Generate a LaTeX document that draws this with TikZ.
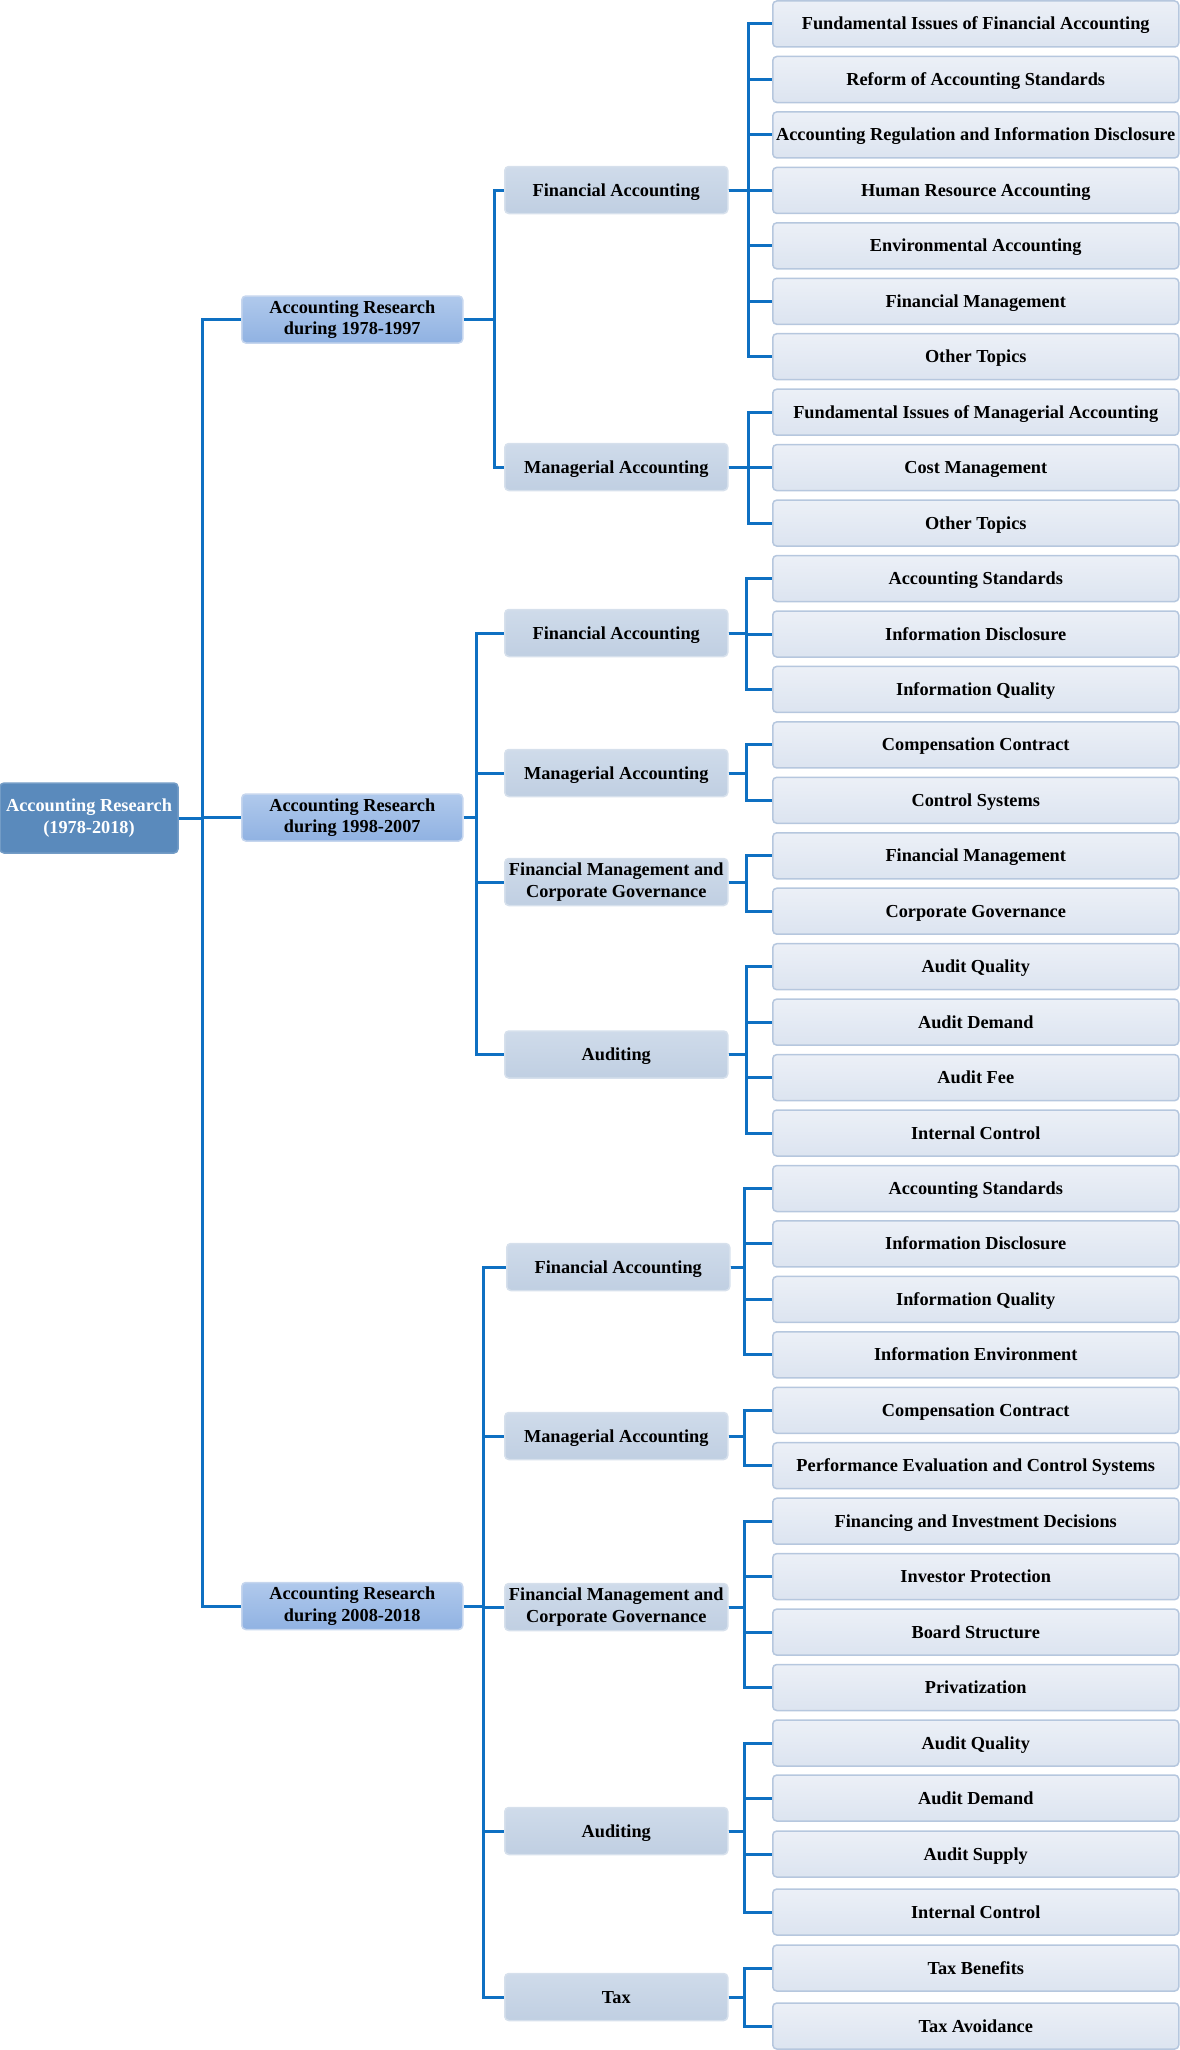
\documentclass[tikz,border=0pt]{standalone}
\usepackage{fontspec}
\setmainfont{Liberation Serif}
\usepackage{tikz}

\definecolor{linkblue}{RGB}{14,112,194}
\definecolor{rootfill}{RGB}{90,138,188}
\definecolor{periodtop}{RGB}{176,201,236}
\definecolor{periodbot}{RGB}{144,178,226}
\definecolor{periodline}{RGB}{198,214,238}
\definecolor{fieldtop}{RGB}{207,219,234}
\definecolor{fieldbot}{RGB}{192,207,226}
\definecolor{fieldline}{RGB}{214,224,236}
\definecolor{topictop}{RGB}{236,240,247}
\definecolor{topicbot}{RGB}{220,228,240}
\definecolor{topicline}{RGB}{182,199,222}

\begin{document}
\begin{tikzpicture}[x=1pt,y=-1pt,
	font=\fontsize{18.3}{21.5}\selectfont\bfseries,
	box/.style={rounded corners=4pt, align=center, inner sep=2pt, line width=1.5pt},
	oneline/.style={text height=16pt, text depth=4pt},
	root/.style={box, fill=rootfill, draw=rootfill!85!white, text=white, minimum width=178pt, minimum height=70pt},
	period/.style={box, anchor=west, top color=periodtop, bottom color=periodbot, draw=periodline, minimum width=221pt, minimum height=47pt},
	field/.style={box, anchor=west, top color=fieldtop, bottom color=fieldbot, draw=fieldline, minimum width=223pt, minimum height=47pt},
	topic/.style={box, oneline, anchor=west, top color=topictop, bottom color=topicbot, draw=topicline, minimum width=406pt, minimum height=46pt},
	link/.style={draw=linkblue, line width=3pt}]

	\useasboundingbox (0,0) rectangle (1180,2050);

	% root and periods
	\node[root] (r) at (89,818) {Accounting Research\\(1978-2018)};

	\node[period] (p1) at (241,319.5) {Accounting Research\\during 1978-1997};
	\node[period] (p2) at (241,817.5) {Accounting Research\\during 1998-2007};
	\node[period] (p3) at (241,1606) {Accounting Research\\during 2008-2018};

	% fields
	\node[field,oneline] (f11) at (504,190) {Financial Accounting};
	\node[field,oneline] (f12) at (504,467) {Managerial Accounting};

	\node[field,oneline] (f21) at (504,633) {Financial Accounting};
	\node[field,oneline] (f22) at (504,773) {Managerial Accounting};
	\node[field] (f23) at (504,882) {Financial Management and\\Corporate Governance};
	\node[field,oneline] (f24) at (504,1054.5) {Auditing};

	\node[field,oneline] (f31) at (506,1267) {Financial Accounting};
	\node[field,oneline] (f32) at (504,1436) {Managerial Accounting};
	\node[field] (f33) at (504,1607) {Financial Management and\\Corporate Governance};
	\node[field,oneline] (f34) at (504,1831) {Auditing};
	\node[field,oneline] (f35) at (504,1997) {Tax};

	% topics
	\node[topic] (t1) at (772,24) {Fundamental Issues of Financial Accounting};
	\node[topic] (t2) at (772,79.5) {Reform of Accounting Standards};
	\node[topic] (t3) at (772,134.9) {Accounting Regulation and Information Disclosure};
	\node[topic] (t4) at (772,190.4) {Human Resource Accounting};
	\node[topic] (t5) at (772,245.8) {Environmental Accounting};
	\node[topic] (t6) at (772,301.3) {Financial Management};
	\node[topic] (t7) at (772,356.7) {Other Topics};
	\node[topic] (t8) at (772,412.2) {Fundamental Issues of Managerial Accounting};
	\node[topic] (t9) at (772,467.6) {Cost Management};
	\node[topic] (t10) at (772,523.1) {Other Topics};

	\node[topic] (t11) at (772,578.5) {Accounting Standards};
	\node[topic] (t12) at (772,634) {Information Disclosure};
	\node[topic] (t13) at (772,689.4) {Information Quality};
	\node[topic] (t14) at (772,744.9) {Compensation Contract};
	\node[topic] (t15) at (772,800.3) {Control Systems};
	\node[topic] (t16) at (772,855.8) {Financial Management};
	\node[topic] (t17) at (772,911.2) {Corporate Governance};
	\node[topic] (t18) at (772,966.7) {Audit Quality};
	\node[topic] (t19) at (772,1022.1) {Audit Demand};
	\node[topic] (t20) at (772,1077.6) {Audit Fee};
	\node[topic] (t21) at (772,1133) {Internal Control};

	\node[topic] (t22) at (772,1188.5) {Accounting Standards};
	\node[topic] (t23) at (772,1243.9) {Information Disclosure};
	\node[topic] (t24) at (772,1299.4) {Information Quality};
	\node[topic] (t25) at (772,1354.8) {Information Environment};
	\node[topic] (t26) at (772,1410.3) {Compensation Contract};
	\node[topic] (t27) at (772,1465.7) {Performance Evaluation and Control Systems};
	\node[topic] (t28) at (772,1521.2) {Financing and Investment Decisions};
	\node[topic] (t29) at (772,1576.6) {Investor Protection};
	\node[topic] (t30) at (772,1632.1) {Board Structure};
	\node[topic] (t31) at (772,1687.5) {Privatization};
	\node[topic] (t32) at (772,1743) {Audit Quality};
	\node[topic] (t33) at (772,1798) {Audit Demand};
	\node[topic] (t34) at (772,1854) {Audit Supply};
	\node[topic] (t35) at (772,1912) {Internal Control};
	\node[topic] (t36) at (772,1968) {Tax Benefits};
	\node[topic] (t37) at (772,2026) {Tax Avoidance};

	% buses
	\coordinate (b0) at (202,0);
	\coordinate (b1) at (494,0);
	\coordinate (b2) at (476,0);
	\coordinate (b3) at (483,0);
	\coordinate (c1) at (748,0);
	\coordinate (c2) at (746,0);
	\coordinate (c3) at (744,0);

	\draw[link] (r.east) -| (b0 |- p1.west) -- (p1.west)
	(r.east) -| (b0 |- p2.west) -- (p2.west)
	(r.east) -| (b0 |- p3.west) -- (p3.west);

	\draw[link] (p1.east) -| (b1 |- f11.west) -- (f11.west)
	(p1.east) -| (b1 |- f12.west) -- (f12.west);

	\draw[link] (p2.east) -| (b2 |- f21.west) -- (f21.west)
	(p2.east) -| (b2 |- f22.west) -- (f22.west)
	(p2.east) -| (b2 |- f23.west) -- (f23.west)
	(p2.east) -| (b2 |- f24.west) -- (f24.west);

	\draw[link] (p3.east) -| (b3 |- f31.west) -- (f31.west)
	(p3.east) -| (b3 |- f32.west) -- (f32.west)
	(p3.east) -| (b3 |- f33.west) -- (f33.west)
	(p3.east) -| (b3 |- f34.west) -- (f34.west)
	(p3.east) -| (b3 |- f35.west) -- (f35.west);

	\foreach \t in {1,...,7} {\draw[link] (f11.east) -| (c1 |- t\t.west) -- (t\t.west);}
	\foreach \t in {8,9,10} {\draw[link] (f12.east) -| (c1 |- t\t.west) -- (t\t.west);}

	\foreach \t in {11,12,13} {\draw[link] (f21.east) -| (c2 |- t\t.west) -- (t\t.west);}
	\foreach \t in {14,15} {\draw[link] (f22.east) -| (c2 |- t\t.west) -- (t\t.west);}
	\foreach \t in {16,17} {\draw[link] (f23.east) -| (c2 |- t\t.west) -- (t\t.west);}
	\foreach \t in {18,...,21} {\draw[link] (f24.east) -| (c2 |- t\t.west) -- (t\t.west);}

	\foreach \t in {22,...,25} {\draw[link] (f31.east) -| (c3 |- t\t.west) -- (t\t.west);}
	\foreach \t in {26,27} {\draw[link] (f32.east) -| (c3 |- t\t.west) -- (t\t.west);}
	\foreach \t in {28,...,31} {\draw[link] (f33.east) -| (c3 |- t\t.west) -- (t\t.west);}
	\foreach \t in {32,...,35} {\draw[link] (f34.east) -| (c3 |- t\t.west) -- (t\t.west);}
	\foreach \t in {36,37} {\draw[link] (f35.east) -| (c3 |- t\t.west) -- (t\t.west);}

\end{tikzpicture}
\end{document}
